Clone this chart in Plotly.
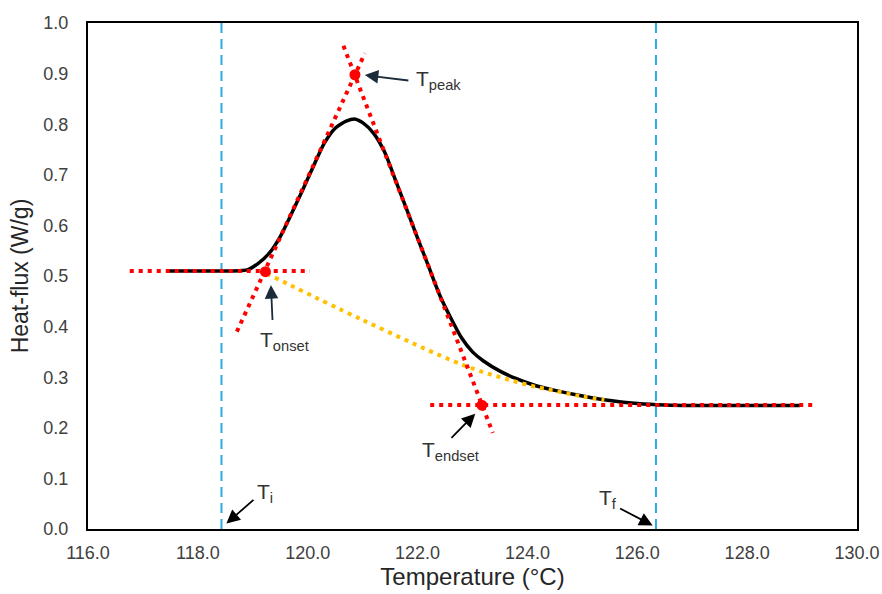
import plotly.graph_objects as go

# DSC curve
temp = [117.44, 117.8, 118.2, 118.6, 118.9, 119.1, 119.3, 119.5, 119.7, 119.9, 120.1, 120.3,
        120.5, 120.7, 120.87, 121.0, 121.2, 121.4, 121.6, 121.8, 122.0, 122.2, 122.4, 122.6,
        122.8, 123.0, 123.2, 123.5, 123.8, 124.1, 124.5, 125.0, 125.5, 126.0, 126.5, 127.0,
        127.5, 128.0, 128.5, 128.96]
heat = [0.510, 0.510, 0.510, 0.510, 0.512, 0.525, 0.545, 0.578, 0.622, 0.668, 0.716, 0.762,
        0.792, 0.806, 0.810, 0.803, 0.782, 0.745, 0.689, 0.632, 0.575, 0.519, 0.463, 0.418,
        0.378, 0.350, 0.332, 0.312, 0.297, 0.285, 0.274, 0.263, 0.254, 0.248, 0.245, 0.244,
        0.244, 0.244, 0.244, 0.244]

# tangent constructions
onset_base_x = [116.76, 120.04]
onset_base_y = [0.51, 0.51]
onset_tan_x = [118.71, 121.04]
onset_tan_y = [0.39, 0.94]
endset_tan_x = [120.65, 123.37]
endset_tan_y = [0.955, 0.19]
endset_base_x = [122.23, 129.2]
endset_base_y = [0.245, 0.245]

# integration baseline
base_x = [119.25, 121.0, 122.83, 123.5, 124.0, 124.5, 125.0, 125.4]
base_y = [0.505, 0.413, 0.324, 0.300, 0.285, 0.273, 0.262, 0.255]

# characteristic points
pt_names = ["onset", "peak", "endset"]
pt_x = [119.23, 120.86, 123.17]
pt_y = [0.5085, 0.8977, 0.2448]

T_i = 118.43
T_f = 126.34

x_ticks = [116, 118, 120, 122, 124, 126, 128, 130]
y_ticks = [0.0, 0.1, 0.2, 0.3, 0.4, 0.5, 0.6, 0.7, 0.8, 0.9, 1.0]

RED = "#FF0000"
dot = "4px,5px"
FONT = "Liberation Sans, Arial, sans-serif"

fig = go.Figure()
for xv in (T_i, T_f):
    fig.add_trace(go.Scatter(x=[xv, xv], y=[0, 1], mode="lines",
                             line=dict(color="#2BA9DE", width=2, dash="10px,6px"),
                             hoverinfo="skip"))
fig.add_trace(go.Scatter(x=temp, y=heat, mode="lines",
                         line=dict(color="black", width=3.5, shape="spline", smoothing=0.6)))
fig.add_trace(go.Scatter(x=base_x, y=base_y, mode="lines",
                         line=dict(color="#FFC000", width=4, dash=dot, shape="spline")))
for xs, ys in [(onset_base_x, onset_base_y), (onset_tan_x, onset_tan_y),
               (endset_tan_x, endset_tan_y), (endset_base_x, endset_base_y)]:
    fig.add_trace(go.Scatter(x=xs, y=ys, mode="lines",
                             line=dict(color=RED, width=4, dash=dot)))
fig.add_trace(go.Scatter(x=pt_x, y=pt_y, mode="markers", text=pt_names,
                         marker=dict(color=RED, size=11)))

# arrows: (head x, head y, tail x, tail y, color)
arrows = [
    (121.04, 0.897, 121.86, 0.886, "#1B2B3A"),
    (119.33, 0.482, 119.36, 0.410, "#1B2B3A"),
    (123.05, 0.228, 122.59, 0.177, "black"),
    (118.52, 0.011, 119.04, 0.060, "black"),
    (126.28, 0.007, 125.66, 0.042, "black"),
]
for hx, hy, tx, ty, c in arrows:
    fig.add_annotation(x=hx, y=hy, ax=tx, ay=ty, xref="x", yref="y", axref="x", ayref="y",
                       text="", showarrow=True, arrowhead=2, arrowsize=1.5,
                       arrowwidth=1.8, arrowcolor=c)

labels = [
    ("T<sub>peak</sub>", 121.93, 0.888),
    ("T<sub>onset</sub>", 119.09, 0.371),
    ("T<sub>endset</sub>", 122.04, 0.154),
    ("T<sub>i</sub>", 119.04, 0.071),
    ("T<sub>f</sub>", 125.26, 0.060),
]
for t, lx, ly in labels:
    fig.add_annotation(x=lx, y=ly, xref="x", yref="y", text=t, showarrow=False,
                       xanchor="left", yanchor="middle",
                       font=dict(family=FONT, size=21, color="#333333"))

fig.update_layout(
    width=882, height=594,
    margin=dict(l=88, r=25, t=23, b=65),
    paper_bgcolor="white", plot_bgcolor="white",
    showlegend=False,
    font=dict(family=FONT, color="#404040"),
    xaxis=dict(range=[116, 130], tickvals=x_ticks, tickformat=".1f", automargin=False,
               showgrid=False, zeroline=False, showline=True, mirror=True,
               linecolor="black", linewidth=2, ticks="",
               ticklabelstandoff=6,
               tickfont=dict(size=18, color="#404040"),
               title=dict(text="Temperature (°C)", font=dict(size=24, color="#262626"), standoff=4)),
    yaxis=dict(range=[0, 1], tickvals=y_ticks, tickformat=".1f", automargin=False,
               showgrid=False, zeroline=False, showline=True, mirror=True,
               linecolor="black", linewidth=2, ticks="",
               ticklabelstandoff=14,
               tickfont=dict(size=18, color="#404040"),
               title=dict(text="Heat-flux (W/g)", font=dict(size=23, color="#262626"), standoff=8)),
)

fig.write_html("out.html")
